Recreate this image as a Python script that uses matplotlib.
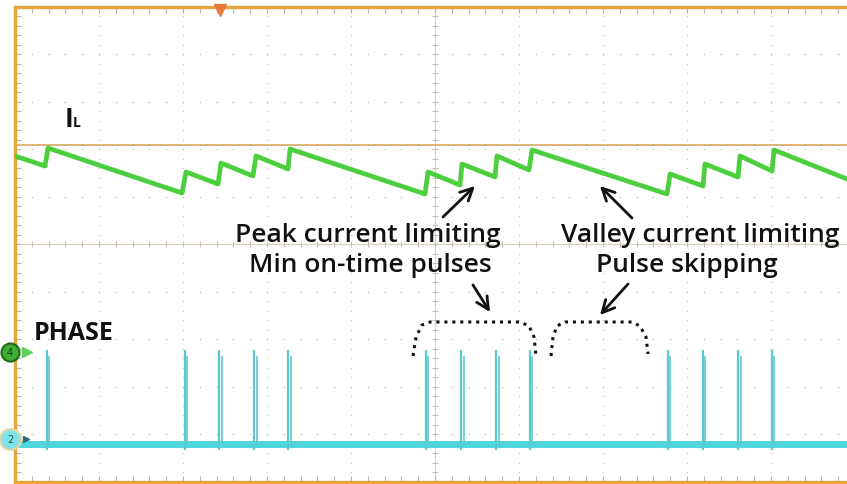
import matplotlib.pyplot as plt
import numpy as np

# scope screen units: x and y in divisions (10 x 10), y=0 at centre line
il_t = [0.0, 0.357, 0.393, 1.988, 2.036, 2.417, 2.452, 2.833, 2.869, 3.25, 3.274, 4.881,
        4.917, 5.298, 5.321, 5.714, 5.738, 6.119, 6.155, 7.762, 7.798, 8.190, 8.214, 8.607,
        8.631, 9.012, 9.036, 9.905]
il_v = [1.853, 1.642, 2.02, 1.074, 1.516, 1.263, 1.705, 1.432, 1.853, 1.579, 2.0, 1.053,
        1.516, 1.242, 1.684, 1.411, 1.853, 1.558, 1.979, 1.053, 1.474, 1.221, 1.684, 1.411,
        1.853, 1.537, 1.979, 1.368]

pulse_t = [0.38, 2.02, 2.43, 2.85, 3.25, 4.89, 5.31, 5.73, 6.13, 7.77, 8.19, 8.61, 9.01]
phase_low = -4.21
phase_high = -2.25

cursor_y = 2.084
trigger_x = 2.44

bracket1_x = [4.738, 4.774, 4.845, 4.940, 6.012, 6.119, 6.179, 6.202]
bracket1_y = [-2.358, -1.958, -1.705, -1.642, -1.642, -1.726, -1.958, -2.358]
bracket2_x = [6.381, 6.405, 6.452, 6.548, 7.345, 7.440, 7.512, 7.536]
bracket2_y = [-2.358, -1.958, -1.726, -1.642, -1.642, -1.726, -1.958, -2.316]

font = 'Open Sans'
green = '#4ccf3c'
cyan = '#4dd6dc'
orange = '#e9a33b'

fig = plt.figure(figsize=(8.47, 4.85), dpi=100)
ax = fig.add_axes([15/847, 2.5/485, 832/847, 475/485])
ax.set_xlim(0, 832/84)
ax.set_ylim(-5, 5)

# graticule
for s in ['left', 'top', 'bottom']:
    ax.spines[s].set_color(orange)
    ax.spines[s].set_linewidth(2.4)
ax.spines['right'].set_visible(False)
ax.set_xticks(np.arange(0, 10, 1))
ax.set_yticks(np.arange(-5, 5.1, 1))
ax.set_xticks(np.arange(0, 10, 0.2), minor=True)
ax.set_yticks(np.arange(-5, 5.1, 0.2), minor=True)
ax.tick_params(which='both', direction='in', top=True, bottom=True, left=True, right=False,
               labelleft=False, labelbottom=False, color='#b5b5b5', length=4, width=0.8)

minor_x = np.arange(0, 10, 0.2)
minor_y = np.arange(-5, 5.01, 0.2)
for gx in range(1, 10):
    if gx == 5:
        continue
    ax.scatter(np.full(len(minor_y), gx), minor_y, s=1.2, color='#c8c8c8', lw=0, zorder=1)
for gy in range(-4, 5):
    if gy == 0:
        continue
    ax.scatter(minor_x, np.full(len(minor_x), gy), s=1.5, color='#c8c8c8', lw=0, zorder=1)

ax.axhline(0, color='#d8cfbf', lw=0.8, zorder=1)
ax.axvline(5, color='#d8cfbf', lw=0.8, zorder=1)
ax.plot(minor_x, np.zeros(len(minor_x)), ls='none', marker='|', ms=5, color='#c8bfae', mew=0.8)
ax.plot(np.full(len(minor_y), 5), minor_y, ls='none', marker='_', ms=5, color='#c8bfae', mew=0.8)

# cursor and trigger marker
ax.axhline(cursor_y, color='#d8a860', lw=1.2, zorder=2)
ax.plot([trigger_x], [4.93], marker='v', ms=8, color='#ea7a3c', clip_on=False, zorder=6)

# inductor current
ax.plot(il_t, il_v, color=green, lw=3.4, solid_joinstyle='round', zorder=4)

# phase node
ax.plot([0.07, 832/84], [phase_low, phase_low], color=cyan, lw=5, zorder=4)
for t in pulse_t:
    ax.plot([t, t], [phase_low - 0.1, phase_high], color='#5cc8cf', lw=1.6, zorder=4)
    ax.plot([t + 0.03, t + 0.03], [phase_low, phase_high - 0.12], color='#5cc8cf', lw=1.2, zorder=4)

# channel markers
ax.plot([-0.06], [-2.27], marker='o', ms=13, mfc='#3fae35', mec='#1f6a1a', mew=1.5, clip_on=False, zorder=7)
ax.text(-0.06, -2.27, '4', fontsize=7, color='#114411', ha='center', va='center', zorder=8)
ax.plot([0.14], [-2.27], marker='>', ms=7, color='#5cd25a', clip_on=False, zorder=7)
ax.plot([-0.06], [-4.1], marker='o', ms=15, mfc='#7fe3e8', mec='#e9d7a0', mew=1.5, clip_on=False, zorder=7)
ax.text(-0.06, -4.1, '2', fontsize=7, color='#1c5a6a', ha='center', va='center', zorder=8)
ax.plot([0.13], [-4.1], marker='>', ms=5, color='#2a6f74', clip_on=False, zorder=7)

# labels
ax.text(0.59, 2.484, 'I', fontsize=19, fontweight='bold', family=font, color='#111111')
ax.text(0.69, 2.484, 'L', fontsize=10, fontweight='bold', family=font, color='#111111')
ax.text(0.22, -2.0, 'PHASE', fontsize=18, fontweight='bold', family=font, color='#111111')

txt = dict(fontsize=19, fontweight='semibold', family=font, ha='center', va='baseline', color='#111111')
ax.text(4.202, 0.07, 'Peak current limiting', **txt)
ax.text(4.226, -0.562, 'Min on-time pulses', **txt)
ax.text(8.155, 0.07, 'Valley current limiting', **txt)
ax.text(8.0, -0.562, 'Pulse skipping', **txt)

arrow = dict(arrowstyle='->', lw=2, color='#111111', mutation_scale=22, shrinkA=0, shrinkB=0)
ax.annotate('', xy=(5.476, 1.221), xytext=(5.095, 0.568), arrowprops=arrow)
ax.annotate('', xy=(6.964, 1.221), xytext=(7.345, 0.547), arrowprops=arrow)
ax.annotate('', xy=(5.655, -1.432), xytext=(5.452, -0.863), arrowprops=arrow)
ax.annotate('', xy=(6.964, -1.495), xytext=(7.298, -0.842), arrowprops=arrow)

ax.plot(bracket1_x, bracket1_y, color='#111111', lw=2.2, ls=(0, (1, 1.6)), zorder=5)
ax.plot(bracket2_x, bracket2_y, color='#111111', lw=2.2, ls=(0, (1, 1.6)), zorder=5)

fig.savefig('out.png', dpi=100)
